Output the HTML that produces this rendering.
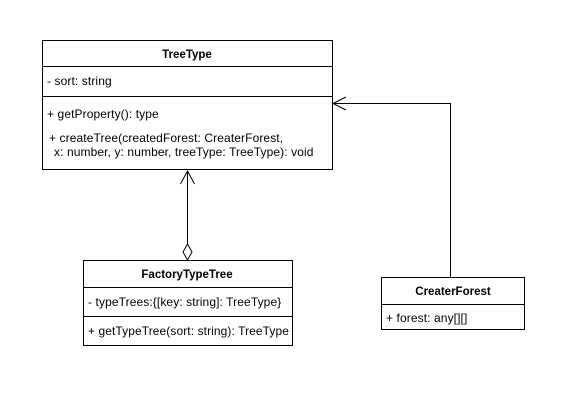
<!DOCTYPE html>
<html><head><style>
body{margin:0;background:#fff;}
svg text{font-family:"Liberation Sans",Arial,sans-serif;font-size:12px;letter-spacing:0.1px;fill:#000;}
svg text.h{font-size:11.5px;letter-spacing:0;}
</style></head><body>
<svg width="583" height="413" xmlns="http://www.w3.org/2000/svg">
<rect width="583" height="413" fill="#fff"/>
<g fill="none" stroke="#000" stroke-width="1">
<rect x="42.5" y="40.5" width="290" height="129"/>
<line x1="42" y1="66.5" x2="332" y2="66.5"/>
<line x1="42" y1="96.5" x2="332" y2="96.5"/>
<rect x="83.5" y="260.5" width="209" height="85"/>
<line x1="83" y1="287.5" x2="292" y2="287.5"/>
<line x1="83" y1="316.5" x2="292" y2="316.5"/>
<rect x="381.5" y="277.5" width="143" height="52"/>
<line x1="381" y1="304.5" x2="524" y2="304.5"/>
<line x1="187.5" y1="171" x2="187.5" y2="244"/>
<polyline points="180.5,184 187.5,171 194.5,184"/>
<polygon points="187.5,244 192,252 187.5,260 183,252" fill="#fff"/>
<polyline points="450.5,277 450.5,103.5 334,103.5"/>
<polyline points="346,97 333,103.5 346,110"/>
</g>
<text class="h" x="187" y="58" text-anchor="middle" font-weight="bold">TreeType</text>
<text x="47" y="85">- sort: string</text>
<text x="47" y="118">+ getProperty(): type</text>
<text x="49" y="142">+ createTree(createdForest: CreaterForest,</text>
<text x="54" y="156">x: number, y: number, treeType: TreeType): void</text>
<text class="h" x="187" y="278" text-anchor="middle" font-weight="bold">FactoryTypeTree</text>
<text x="88" y="306">- typeTrees:{[key: string]: TreeType}</text>
<text x="88" y="335" textLength="201" lengthAdjust="spacingAndGlyphs">+ getTypeTree(sort: string): TreeType</text>
<text class="h" x="453" y="295" text-anchor="middle" font-weight="bold">CreaterForest</text>
<text x="386" y="322">+ forest: any[][]</text>
</svg>
</body></html>
